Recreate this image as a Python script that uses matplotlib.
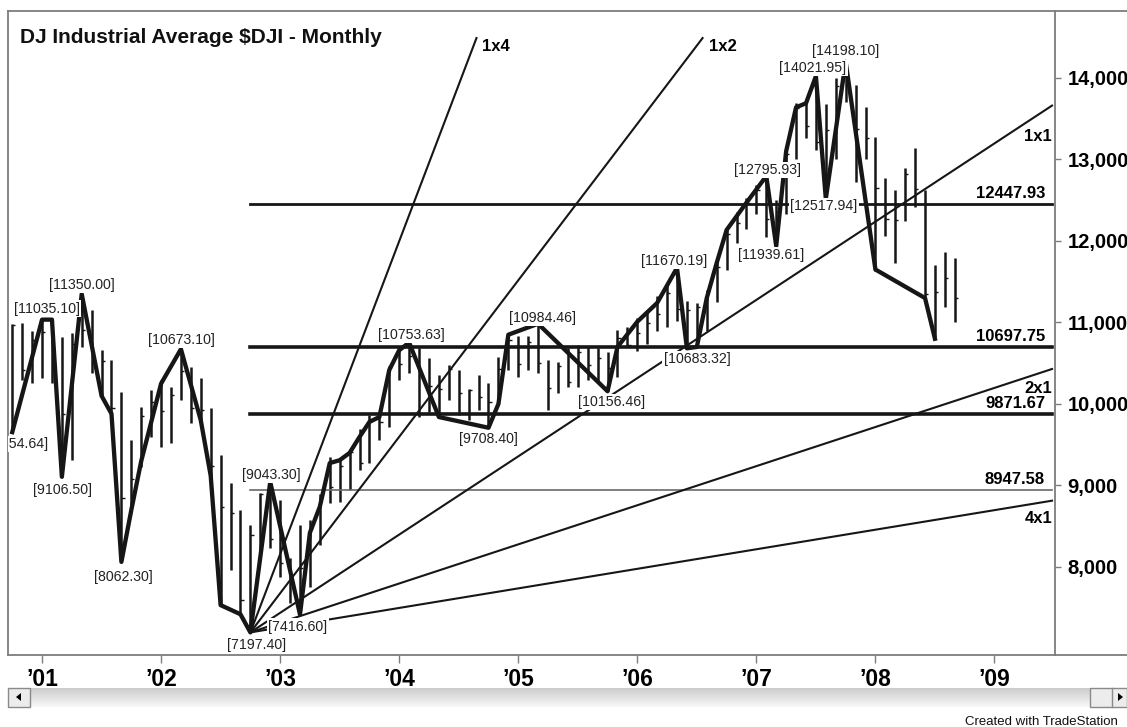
import numpy as np
import matplotlib.pyplot as plt
from matplotlib.lines import Line2D
from matplotlib.patches import Rectangle, Polygon

plt.rcParams['font.family'] = ['Liberation Sans', 'DejaVu Sans']

# monthly bars, Oct 2000 .. Sep 2008 (month index 0 = Jan 2001)
months = np.arange(-3, 93)
highs = [
    10977, 10990, 10900,
    11035, 11030, 10820, 10870, 11350, 11150, 10660, 10540, 10150, 9560, 9960, 10170,
    10290, 10210, 10673, 10450, 10320, 9950, 9380, 9030, 8700, 8520, 8910, 9043,
    8820, 8110, 8520, 8580, 8900, 9350, 9330, 9420, 9690, 9860, 9900, 10460,
    10670, 10754, 10690, 10570, 10360, 10480, 10420, 10180, 10360, 10260, 10580, 10870,
    10830, 10830, 10984, 10540, 10510, 10690, 10720, 10700, 10690, 10640, 10910, 10940,
    11050, 11150, 11330, 11460, 11670, 11260, 11240, 11400, 11740, 12170, 12360, 12530,
    12690, 12796, 12500, 13160, 13690, 13720, 14022, 13680, 14000, 14198, 13910, 13640,
    13280, 12770, 12630, 12900, 13140, 12630, 11700, 11870, 11790,
]
lows = [
    9654.64, 10300, 10260,
    10320, 10260, 9106.5, 9310, 10700, 10380, 10090, 9840, 8062.3, 8660, 9230, 9600,
    9470, 9520, 10050, 9770, 9800, 9070, 7532, 7960, 7420, 7197.4, 8210, 8230,
    7880, 7560, 7416.6, 7760, 8270, 8790, 8800, 8945, 9190, 9270, 9560, 9720,
    10290, 10380, 9840, 9900, 9850, 10050, 9870, 9800, 9930, 9708.4, 10050, 10420,
    10330, 10420, 10380, 9930, 10130, 10210, 10210, 10290, 10270, 10156.46, 10330, 10700,
    10650, 10740, 10900, 10950, 11020, 10683.32, 10700, 10900, 11250, 11650, 11980, 12150,
    12330, 12050, 11939.61, 12330, 13000, 13260, 13120, 12517.94, 13000, 13700, 12720, 13000,
    11634, 12060, 11731, 12250, 12420, 11290, 10827, 11190, 11006,
]
closes = [
    10971, 10415, 10788,
    10887, 10495, 9879, 10735, 10912, 10502, 10523, 9950, 8848, 9075, 9852, 10022,
    9920, 10106, 10404, 9946, 9925, 9243, 8737, 8664, 7592, 8397, 8896, 8342,
    8054, 7891, 7992, 8480, 8850, 8985, 9234, 9416, 9275, 9801, 9782, 10454,
    10488, 10584, 10358, 10226, 10188, 10435, 10140, 10174, 10080, 10027, 10428, 10783,
    10490, 10766, 10504, 10193, 10467, 10275, 10641, 10482, 10569, 10440, 10806, 10718,
    10865, 10993, 11109, 11367, 11168, 11150, 11185, 11381, 11679, 12081, 12222, 12463,
    12622, 12269, 12354, 13063, 13628, 13409, 13212, 13358, 13896, 13930, 13372, 13265,
    12650, 12266, 12263, 12820, 12638, 11350, 11378, 11544, 11300,
]

# swing line
swing_m = [-3, 0, 1, 2, 4, 6, 7, 8, 9, 10, 12, 14, 16, 17, 18, 20, 21, 23, 26,
           27, 28, 29, 30, 31, 32, 33, 34, 35, 36, 37, 40, 45, 46, 47, 50, 57,
           58, 60, 62, 64, 65, 66, 67, 68, 69, 71, 73, 74, 75, 76, 77, 78, 79,
           81, 84, 89, 90]
swing_v = [9654.64, 11035.1, 11035.1, 9106.5, 11350, 10100, 9880, 8062.3, 8700,
           9300, 10250, 10673.1, 9800, 9120, 7532, 7420, 7197.4, 9043.3, 7416.6,
           8420, 8740, 9275, 9310, 9400, 9595, 9780, 9840, 10417, 10660, 10753.63,
           9840, 9708.4, 10000, 10850, 10984.46, 10156.46, 10700, 11010, 11240,
           11670.19, 10683.32, 10700, 11300, 11730, 12135, 12470, 12795.93,
           11939.61, 13100, 13640, 13690, 14021.95, 12517.94, 14198.1, 11650,
           11300, 10800]

# labelled swing points
pivot_m = [-3, 0, 4, 2, 8, 14, 21, 23, 26, 37, 45, 50, 57, 64, 65, 73, 74, 78, 79, 81]
pivot_v = [9654.64, 11035.10, 11350.00, 9106.50, 8062.30, 10673.10, 7197.40,
           9043.30, 7416.60, 10753.63, 9708.40, 10984.46, 10156.46, 11670.19,
           10683.32, 12795.93, 11939.61, 14021.95, 12517.94, 14198.10]
# label offsets in pixels (dx, dy up)
pivot_off = [(6, -12), (5, 11), (0, 9), (1, -13), (2, -15), (1, 9), (6, -13),
             (1, 7), (-2, -12), (2, 8), (0, -11), (4, 6), (4, -11), (-3, 7),
             (10, -11), (1, 6), (-5, -9), (-3, 8), (-2, -7), (0, 11)]

# Gann fan from the Oct 2002 low
fan_m0, fan_v0, fan_unit = 21, 7197.4, 80.0
fan_names = ['1x4', '1x2', '1x1', '2x1', '4x1']
fan_ratio = [4, 2, 1, 0.5, 0.25]
levels = [12447.93, 10697.75, 9871.67, 8947.58]

years = ['\u201901', '\u201902', '\u201903', '\u201904', '\u201905', '\u201906',
         '\u201907', '\u201908', '\u201909']
price_ticks = [8000, 9000, 10000, 11000, 12000, 13000, 14000]

W, H = 1127, 727
fig = plt.figure(figsize=(W / 100, H / 100), dpi=100)


def fx(px):
    return px / W


def fy(py):
    return 1 - py / H


ax = fig.add_axes([fx(8), fy(655), (1055 - 8) / W, (655 - 11) / H])
ax.set_xlim(-3.43, 102.1)
ax.set_ylim(6920, 14822)
dark = '#161616'
grey = '#7d7d7d'

ax.vlines(months, lows, highs, color=dark, lw=1.8, zorder=2)
ax.hlines(closes, months, months + 0.32, color=dark, lw=1.0, zorder=2)
ax.plot(swing_m, swing_v, color=dark, lw=3.1, solid_joinstyle='round', zorder=3)

m_end, v_top = 101.8, 14490
for name, k in zip(fan_names, fan_ratio):
    slope = k * fan_unit
    me = min(m_end, fan_m0 + (v_top - fan_v0) / slope)
    ve = fan_v0 + slope * (me - fan_m0)
    ax.plot([fan_m0, me], [fan_v0, ve], color=dark, lw=1.5, zorder=2.5)
    if me < m_end:
        ax.annotate(name, (me, ve), xytext=(6, -8), textcoords='offset pixels',
                    ha='left', va='center', fontsize=12, fontweight='bold')
    else:
        dy = {'1x1': -23, '2x1': -12, '4x1': -10}[name]
        ax.annotate(name, (me, ve), xytext=(0, dy), textcoords='offset pixels',
                    ha='right', va='top', fontsize=12, fontweight='bold')

lvl_lw = [2.0, 2.6, 2.6, 1.2]
lvl_col = [dark, dark, dark, '#6a6a6a']
for v, lw, c in zip(levels, lvl_lw, lvl_col):
    ax.plot([fan_m0, m_end], [v, v], color=c, lw=lw, zorder=2.4)
    ax.annotate(f'{v:.2f}', (m_end, v), xytext=(-7, 3), textcoords='offset pixels',
                ha='right', va='bottom', fontsize=12, fontweight='bold')

for m, v, (dx, dy) in zip(pivot_m, pivot_v, pivot_off):
    ax.annotate(f'[{v:.2f}]', (m, v), xytext=(dx, dy), textcoords='offset pixels',
                ha='center', va='center', fontsize=10.2, color='#222222',
                annotation_clip=False, clip_on=True, zorder=6,
                bbox=dict(boxstyle='square,pad=0.08', fc='white', ec='none'))

for s in ax.spines.values():
    s.set_color(grey)
    s.set_linewidth(1.3)

ax.set_xticks(np.arange(0, 97, 12))
ax.set_xticklabels(years, fontsize=16.5, fontweight='bold')
ax.yaxis.tick_right()
ax.set_yticks(price_ticks)
ax.set_yticklabels([f'{v:,}' for v in price_ticks], fontsize=14.5, fontweight='bold')
ax.tick_params(axis='x', direction='out', length=6, width=1, color=grey, pad=3)
ax.tick_params(axis='y', direction='out', length=4, width=1, color=grey, pad=5)

fig.text(fx(20), fy(43), 'DJ Industrial Average $DJI - Monthly', fontsize=15,
         fontweight='bold', va='baseline', color='#111111')

# frame lines extending past the price scale
fig.add_artist(Line2D([fx(1055), 1], [fy(11), fy(11)], color=grey, lw=1.3))
fig.add_artist(Line2D([fx(1055), 1], [fy(655), fy(655)], color=grey, lw=1.3))

# scroll bar
sb = fig.add_axes([fx(8), fy(707), (W - 8) / W, 19 / H])
grad = np.linspace(0.8, 0.97, 50).reshape(-1, 1)
sb.imshow(grad, aspect='auto', cmap='gray', vmin=0, vmax=1,
          extent=[0, 1, 0, 1], origin='upper')
sb.set_axis_off()
fig.add_artist(Rectangle((fx(8), fy(707)), 22 / W, 19 / H, fc='#ececec',
                         ec='#8a8a8a', lw=1))
fig.add_artist(Polygon([[fx(16), fy(697)], [fx(21), fy(693)], [fx(21), fy(701)]],
                       closed=True, fc='black', ec='none'))
fig.add_artist(Rectangle((fx(1090), fy(707)), 37 / W, 19 / H, fc='#ececec',
                         ec='#8a8a8a', lw=1))
fig.add_artist(Line2D([fx(1112), fx(1112)], [fy(707), fy(688)], color='#8a8a8a', lw=1))
fig.add_artist(Polygon([[fx(1123), fy(697)], [fx(1118), fy(693)], [fx(1118), fy(701)]],
                       closed=True, fc='black', ec='none'))

fig.text(fx(965), fy(722), 'Created with TradeStation', fontsize=9.5,
         va='center', ha='left', color='#111111')

fig.savefig('out.png', dpi=100, facecolor='white')
